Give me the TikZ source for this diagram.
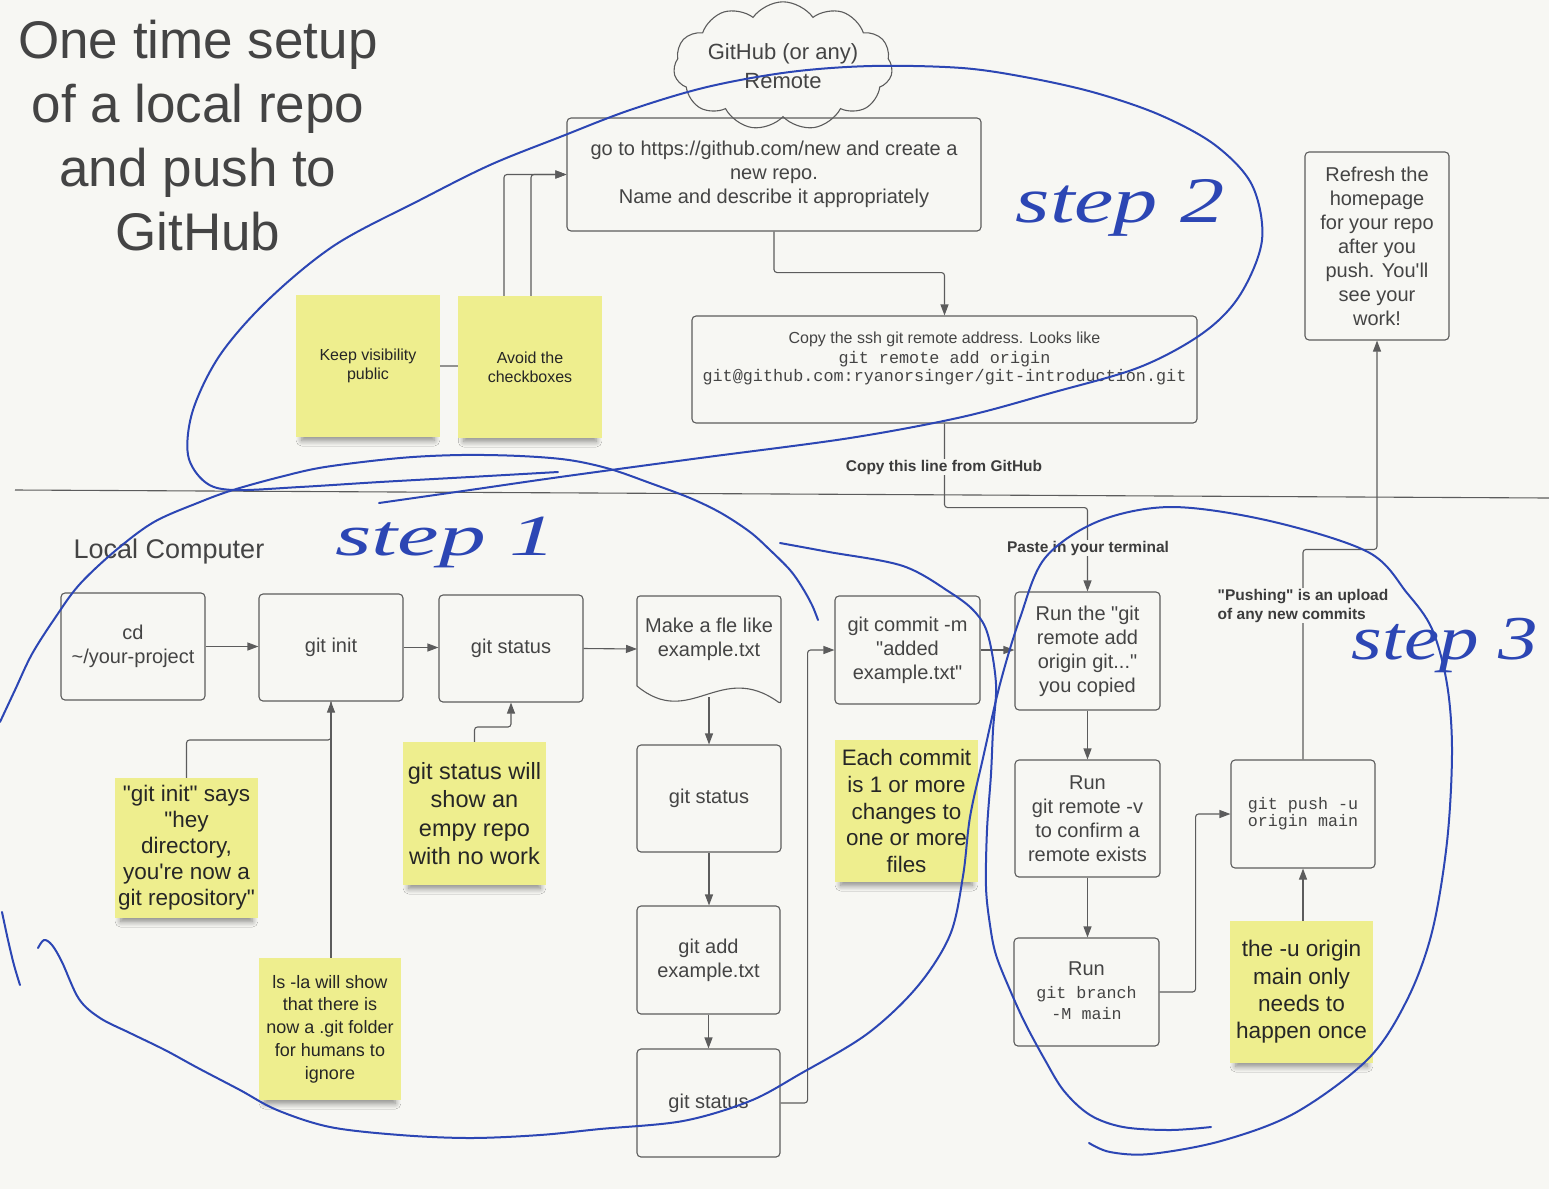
\documentclass[tikz,border=0pt]{standalone}
\usepackage{fontspec}
\setmainfont{Liberation Sans}[Ligatures=TeXOff]
\setmonofont{Liberation Mono}[Ligatures=TeXOff]
\newfontfamily\handfont{Liberation Serif}
\usetikzlibrary{arrows.meta,shapes.symbols,shadows.blur}
\definecolor{paper}{HTML}{F7F7F3}
\definecolor{edge}{HTML}{5C5C5C}
\definecolor{ink}{HTML}{444444}
\definecolor{dark}{HTML}{262626}
\definecolor{stickyfill}{HTML}{EEEE8E}
\definecolor{penblue}{HTML}{2C46B4}
\newcommand\myfs[2]{\fontsize{#1}{#2}\selectfont}
\begin{document}
\begin{tikzpicture}[x=1pt,y=-1pt,
  box/.style={draw=edge, line width=1.1pt, rounded corners=4pt, inner sep=2pt, text=ink, align=center, font=\myfs{20}{24}},
  stickynote/.style={fill=stickyfill, inner sep=2pt, text=dark, align=center,
     blur shadow={shadow xshift=0pt, shadow yshift=-10pt, shadow scale=0.92, shadow blur radius=6pt, shadow blur steps=8, shadow opacity=45}},
  conn/.style={draw=edge, line width=1.1pt, rounded corners=3pt, -{Triangle[length=11pt,width=8pt]}},
  plainline/.style={draw=edge, line width=1.1pt, rounded corners=3pt},
  lbl/.style={font=\bfseries\myfs{15.5}{19}, text=dark!90, fill=paper, inner sep=1pt, align=left},
  penline/.style={draw=penblue, line width=2pt, line cap=round, line join=round},
  handtxt/.style={text=penblue, inner sep=0pt, font=\handfont\itshape\myfs{52}{56}},
  plaintxt/.style={text=ink, inner sep=0pt}
]
\fill[paper] (0,0) rectangle (1549,1189);
\useasboundingbox (0,0) rectangle (1549,1189);

% ---------- titles ----------
\node[plaintxt, align=center, font=\myfs{53}{64}] (title) at (198,136) {One time setup\\of a local repo\\and push to\\GitHub};
\node[plaintxt, font=\myfs{27}{30}] (local) at (169,552) {Local Computer};
\node[cloud, draw=edge, line width=1.1pt, cloud puffs=11, cloud puff arc=110, aspect=2.1,
      minimum width=215, minimum height=100, align=center, text=ink, font=\myfs{22}{29}, inner sep=0pt]
      (cloud) at (783,66) {GitHub (or any)\\Remote};

% ---------- divider ----------
\coordinate (divL) at (15,490);
\coordinate (divR) at (1549,498);
\draw[edge, line width=1.1pt] (divL) -- (divR);

% ---------- remote boxes ----------
\node[box, minimum width=414, minimum height=113] (goto) at (774,174.5)
  {go to https://github.com/new and create a\\new repo.\\Name and describe it appropriately};
\node[box, minimum width=505, minimum height=107] (copy) at (944.5,369.5) {};
\node[plaintxt, font=\myfs{16}{20}] (copy1) at (944.5,339) {Copy the ssh git remote address. Looks like};
\node[plaintxt, font=\ttfamily\myfs{16.8}{18}] (copy2) at (944.5,359) {git remote add origin};
\node[plaintxt, font=\ttfamily\myfs{16.8}{18}] (copy3) at (944.5,377) {git@github.com:ryanorsinger/git-introduction.git};
\node[box, minimum width=144, minimum height=188] (refresh) at (1377,246)
  {Refresh the\\homepage\\for your repo\\after you\\push. You'll\\see your\\work!};

% ---------- local boxes ----------
\node[box, minimum width=144, minimum height=107] (cd) at (133,646.5) {cd\\\textasciitilde/your-project};
\node[box, minimum width=144, minimum height=107] (init) at (331,647.5) {git init};
\node[box, minimum width=144, minimum height=107] (status1) at (511,648.5) {git status};
\draw[plainline] (637,686) -- (637,596) -- (781,596) -- (781,704)
   .. controls (720,660) and (690,730) .. (637,686);
\coordinate (makeL) at (637,649);
\coordinate (makeB) at (709,697);
\node[plaintxt, align=center, font=\myfs{20}{24}] (make) at (709,639) {Make a fle like\\example.txt};
\node[box, minimum width=144, minimum height=107] (status2) at (709,798.5) {git status};
\node[box, minimum width=143, minimum height=108] (add) at (708.5,960) {git add\\example.txt};
\node[box, minimum width=143, minimum height=108] (status3) at (708.5,1103) {git status};
\node[box, minimum width=145, minimum height=108] (commit) at (907.5,650) {git commit -m\\"added\\example.txt"};
\node[box, minimum width=145, minimum height=118] (runthe) at (1087.5,651) {Run the "git\\remote add\\origin git..."\\you copied};
\node[box, minimum width=145, minimum height=117] (remotev) at (1087.5,818.5) {Run\\git remote -v\\to confirm a\\remote exists};
\node[box, minimum width=145, minimum height=108] (branch) at (1086.5,992) {};
\node[plaintxt, font=\myfs{20}{24}] (branch1) at (1086.5,969) {Run};
\node[plaintxt, font=\ttfamily\myfs{16.7}{20}] (branch2) at (1086.5,994) {git branch};
\node[plaintxt, font=\ttfamily\myfs{16.7}{20}] (branch3) at (1086.5,1014) {-M main};
\node[box, minimum width=144, minimum height=108, font=\ttfamily\myfs{16.7}{17}] (push) at (1303,814) {git push -u\\origin main};

% ---------- sticky anchors for connectors ----------
\coordinate (keepE) at (440,366);
\coordinate (avoidN) at (531,296);
\coordinate (giN) at (186.5,778);
\coordinate (lsN) at (331,958);
\coordinate (gsN) at (474.5,742);
\coordinate (uN) at (1303,921);

% ---------- connectors ----------
\draw[conn] (goto.south) -- ++(0,41) -| (copy.north);
\draw[conn] (copy.south) -- ++(0,84) -| (runthe.north);
\node[lbl] (copylbl) at (944,467) {Copy this line from GitHub};
\node[lbl] (pastelbl) at (1088,548) {Paste in your terminal};

\draw[conn] (keepE) -- ++(64,0) |- (goto.west);
\draw[conn] (avoidN) |- (goto.west);
\draw[plainline] (giN) -- ++(0,-38) -| (lsN |- init.south);
\draw[conn] (lsN) -- (lsN |- init.south);
\draw[conn] (gsN) -- ++(0,-15) -| (status1.south);
\draw[conn] (uN) -- (push.south);

\draw[conn] (cd.east) -- (cd.east -| init.west);
\draw[conn] (init.east) -- (init.east -| status1.west);
\draw[conn] (status1.east) -- (makeL);
\draw[conn] (makeB) -- (status2.north);
\draw[conn] (status2.south) -- (status2.south |- add.north);
\draw[conn] (add.south) -- (status3.north);
\draw[conn] (status3.east) -- ++(27,0) |- (commit.west);
\draw[conn] (commit.east) -- (commit.east -| runthe.west);
\draw[conn] (runthe.south) -- (remotev.north);
\draw[conn] (remotev.south) -- (remotev.south |- branch.north);
\draw[conn] (branch.east) -- ++(36,0) |- (push.west);
\draw[conn] (push.north) -- ++(0,-210) -| (refresh.south);
\node[lbl] (pushlbl) at (1303,605.5) {"Pushing" is an upload\\of any new commits};

% ---------- stickies ----------
\node[stickynote, minimum width=144, minimum height=142, font=\myfs{16}{19}] (keep) at (368,366) {Keep visibility\\public};
\node[stickynote, minimum width=144, minimum height=142, font=\myfs{16}{19}] (avoid) at (530,367) {Avoid the\\checkboxes};
\node[stickynote, minimum width=143, minimum height=140, font=\myfs{22.5}{26}] (gisticky) at (186.5,848)
  {"git init" says\\"hey\\directory,\\you're now a\\git repository"};
\node[stickynote, minimum width=142, minimum height=142, font=\myfs{18}{22.7}] (lssticky) at (330,1029)
  {ls -la will show\\that there is\\now a .git folder\\for humans to\\ignore};
\node[stickynote, minimum width=143, minimum height=143, font=\myfs{23.5}{28.5}] (gssticky) at (474.5,813.5)
  {git status will\\show an\\empy repo\\with no work};
\node[stickynote, minimum width=143, minimum height=142, font=\myfs{22.4}{26.8}] (eachsticky) at (906.5,811)
  {Each commit\\is 1 or more\\changes to\\one or more\\files};
\node[stickynote, minimum width=143, minimum height=142, font=\myfs{22.6}{27.3}] (usticky) at (1301.5,992)
  {the -u origin\\main only\\needs to\\happen once};

% ---------- hand-drawn pen annotations ----------
% step 2 loop
\draw[penline] plot[smooth, tension=0.55] coordinates {
  (379,503) (470,490) (560,477) (700,458) (850,438) (962,417) (1051,393) (1140,367)
  (1203,333) (1240,295) (1262,240) (1252,185) (1215,145) (1160,115) (1096,93) (1030,78)
  (962,68) (872,66) (790,72) (707,87) (630,110) (560,137) (490,165) (420,200) (335,245)
  (268,300) (220,355) (193,410) (188,455) (205,482) (233,490) (300,487) (380,482) (470,477) (558,472)};
% step 1 upper arc
\draw[penline] plot[smooth, tension=0.55] coordinates {
  (0,722) (15,690) (32,654) (55,618) (79,585) (115,551) (154,522) (200,502) (233,490)
  (280,477) (325,467) (400,458) (461,455) (520,456) (569,460) (610,469) (650,483) (690,498)
  (721,513) (750,532) (770,550) (790,570) (802,587) (812,605) (818,620)};
% small left mark
\draw[penline] plot[smooth, tension=0.55] coordinates {(2,912) (8,940) (14,965) (20,985)};
% step 1 bottom + step 3 loop
\draw[penline] plot[smooth, tension=0.55] coordinates {
  (38,948) (44,940) (52,945) (62,962) (79,999) (100,1018) (130,1033) (165,1050) (198,1068)
  (240,1090) (277,1110) (330,1127) (400,1135) (470,1138) (540,1135) (600,1129) (683,1121)
  (750,1101) (800,1074) (867,1034) (917,987) (950,935) (963,876) (970,817) (983,758)
  (1000,684) (1020,618) (1045,558) (1099,521) (1172,507) (1270,521) (1368,552) (1407,593)
  (1432,629) (1447,684) (1452,751) (1447,842) (1432,932) (1407,1000) (1368,1059)
  (1295,1113) (1221,1141) (1150,1154) (1110,1152) (1089,1143)};
% crossing stroke near step 3
\draw[penline] plot[smooth, tension=0.55] coordinates {
  (780,543) (829,552) (903,566) (951,593) (975,612) (988,635) (996,684) (993,730) (991,774)
  (987,830) (986,887) (990,925) (996,955) (1010,990) (1025,1023) (1045,1060) (1064,1091)
  (1090,1115) (1123,1127) (1170,1130) (1211,1127)};

\node[handtxt] (step1) at (446,542) {\scalebox{1.8}[1.12]{step 1}};
\node[handtxt] (step2) at (1120,208) {\scalebox{1.7}[1.25]{step 2}};
\node[handtxt] (step3) at (1445,645) {\scalebox{1.52}[1.2]{step 3}};

\end{tikzpicture}
\end{document}
